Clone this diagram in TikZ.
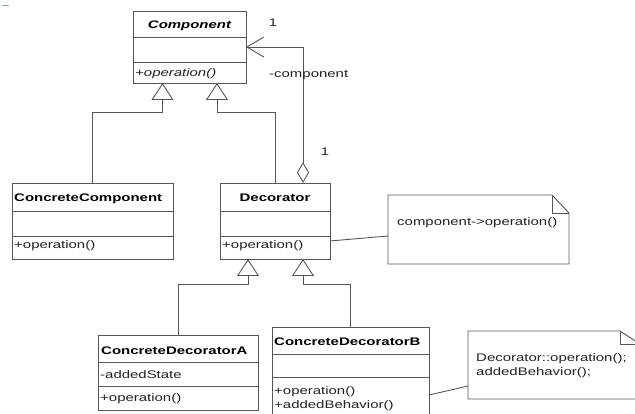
\documentclass[tikz,border=0pt]{standalone}
\usepackage{fontspec}
\setmainfont{Liberation Sans}[FakeStretch=1.36]
\usetikzlibrary{arrows.meta,calc}

\definecolor{umlline}{HTML}{555555}
\definecolor{umltext}{HTML}{222222}
\definecolor{marker}{HTML}{8FA8DC}

\tikzset{
  classbox/.style={draw=umlline, line width=0.9pt, anchor=north west, inner sep=0pt, outer sep=0pt},
  sep/.style={draw=umlline, line width=0.9pt},
  title/.style={anchor=base, inner sep=0pt, text=black, font=\fontsize{11}{13}\selectfont\bfseries},
  titleleft/.style={title, anchor=base west},
  member/.style={anchor=base west, inner sep=0pt, text=umltext},
  lbl/.style={anchor=base west, inner sep=0pt, text=umltext},
  notebox/.style={anchor=north west, inner sep=0pt, outer sep=0pt},
  noteline/.style={draw=umlline, line width=0.9pt},
  inh/.style={draw=umlline, line width=0.9pt, -{Triangle[open, length=17pt, width=22pt, fill=white]}},
  agg/.style={draw=umlline, line width=0.9pt, {Diamond[open, length=21pt, width=12pt, fill=white]}-{Straight Barb[length=17pt, width=20pt]}},
  link/.style={draw=umlline, line width=0.9pt}
}

\begin{document}
\begin{tikzpicture}[x=1pt, y=-1pt, font=\fontsize{11}{13}\selectfont]
  % canvas
  \fill[white] (0,0) rectangle (635,414);
  \useasboundingbox (0,0) rectangle (635,414);
  \draw[marker, line width=1.6pt] (2,5.5) -- (9,5.5);

  % ---------- classes ----------
  \node[classbox, minimum width=113pt, minimum height=72pt] (comp) at (133,11) {};
  \draw[sep] ($(comp.north west)+(0,26)$) -- ($(comp.north east)+(0,26)$);
  \draw[sep] ($(comp.north west)+(0,51)$) -- ($(comp.north east)+(0,51)$);
  \node[title] (comp-t) at (189.5,29) {\itshape Component};
  \node[member] (comp-m) at (135,77) {\itshape +operation()};

  \node[classbox, minimum width=161pt, minimum height=76pt] (cc) at (12,183) {};
  \draw[sep] ($(cc.north west)+(0,28)$) -- ($(cc.north east)+(0,28)$);
  \draw[sep] ($(cc.north west)+(0,53)$) -- ($(cc.north east)+(0,53)$);
  \node[titleleft] (cc-t) at (14,202) {ConcreteComponent};
  \node[member] (cc-m) at (14,249) {+operation()};

  \node[classbox, minimum width=110pt, minimum height=76pt] (dec) at (220,183) {};
  \draw[sep] ($(dec.north west)+(0,28)$) -- ($(dec.north east)+(0,28)$);
  \draw[sep] ($(dec.north west)+(0,53)$) -- ($(dec.north east)+(0,53)$);
  \node[title] (dec-t) at (275,202) {Decorator};
  \node[member] (dec-m) at (222,249) {+operation()};

  \node[classbox, minimum width=160pt, minimum height=75pt] (cda) at (98,335) {};
  \draw[sep] ($(cda.north west)+(0,27)$) -- ($(cda.north east)+(0,27)$);
  \draw[sep] ($(cda.north west)+(0,51)$) -- ($(cda.north east)+(0,51)$);
  \node[titleleft] (cda-t) at (101,354) {ConcreteDecoratorA};
  \node[member] (cda-m1) at (100,378) {-addedState};
  \node[member] (cda-m2) at (100,401) {+operation()};

  \node[classbox, minimum width=157pt, minimum height=91pt] (cdb) at (272,327) {};
  \draw[sep] ($(cdb.north west)+(0,27)$) -- ($(cdb.north east)+(0,27)$);
  \draw[sep] ($(cdb.north west)+(0,50)$) -- ($(cdb.north east)+(0,50)$);
  \node[titleleft] (cdb-t) at (274,345) {ConcreteDecoratorB};
  \node[member] (cdb-m1) at (274,394) {+operation()};
  \node[member] (cdb-m2) at (274,408) {+addedBehavior()};

  % ---------- notes ----------
  \node[notebox, minimum width=181pt, minimum height=69pt] (note1) at (388,195) {};
  \draw[noteline] (note1.north west) -- ($(note1.north east)+(-17,0)$)
        -- ($(note1.north east)+(0,18)$) -- (note1.south east) -- (note1.south west) -- cycle;
  \draw[noteline] ($(note1.north east)+(-17,0)$) |- ($(note1.north east)+(0,18)$);
  \node[lbl] (note1-t) at (397,226) {component->operation()};

  \node[notebox, minimum width=172pt, minimum height=68pt] (note2) at (468,331) {};
  \draw[noteline] (note2.north west) -- ($(note2.north east)+(-20,0)$)
        -- ($(note2.north east)+(0,13)$) -- (note2.south east) -- (note2.south west) -- cycle;
  \draw[noteline] ($(note2.north east)+(-20,0)$) |- ($(note2.north east)+(0,13)$);
  \node[lbl] (note2-t1) at (476,361) {Decorator::operation();};
  \node[lbl] (note2-t2) at (476,375) {addedBehavior();};

  % ---------- attachment points ----------
  \coordinate (comp-in1) at ($(comp.south)+(-27,0)$);
  \coordinate (comp-in2) at ($(comp.south)+(27.5,0)$);
  \coordinate (dec-in1) at ($(dec.south)+(-27,0)$);
  \coordinate (dec-in2) at ($(dec.south)+(28,0)$);
  \coordinate (dec-agg) at ($(dec.north)+(28,0)$);
  \coordinate (dec-note) at ($(dec.north east)+(0,58)$);
  \coordinate (note1-in) at ($(note1.north west)+(0,41)$);
  \coordinate (cdb-note) at ($(cdb.north east)+(0,68)$);
  \coordinate (note2-in) at ($(note2.north west)+(0,55)$);

  % ---------- generalisations ----------
  \draw[inh] (cc.north) |- ($(comp-in1)+(0,29)$) -- (comp-in1);
  \draw[inh] (dec.north) |- ($(comp-in2)+(0,29)$) -- (comp-in2);
  \draw[inh] (cda.north) |- ($(dec-in1)+(0,25)$) -- (dec-in1);
  \draw[inh] (cdb.north) |- ($(dec-in2)+(0,25)$) -- (dec-in2);

  % ---------- aggregation ----------
  \draw[agg] (dec-agg) |- (comp.east);
  \node[lbl, anchor=base] (mult-top) at (273,27) {1};
  \node[lbl] (role) at (269,78) {-component};
  \node[lbl, anchor=base] (mult-bot) at (325,156) {1};

  % ---------- note links ----------
  \draw[link] (dec-note) -- (note1-in);
  \draw[link] (cdb-note) -- (note2-in);
\end{tikzpicture}
\end{document}
